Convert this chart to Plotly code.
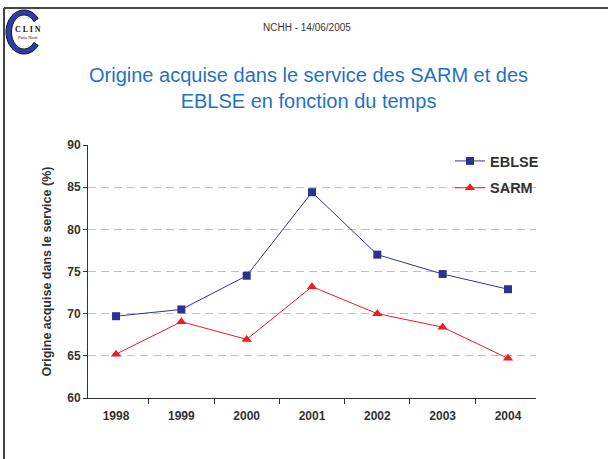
import numpy as np
import plotly.graph_objects as go

years = ["1998", "1999", "2000", "2001", "2002", "2003", "2004"]
eblse = [69.7, 70.5, 74.5, 84.4, 77.0, 74.7, 72.9]
sarm = [65.2, 69.05, 66.95, 73.2, 70.0, 68.4, 64.7]

W, H = 608, 459
L, R, T, B = 88, 72, 145, 61
pw, ph = W - L - R, H - T - B


def px(x):
    return (x - L) / pw


def py(y):
    return (H - B - y) / ph


fig = go.Figure()

fig.add_trace(go.Scatter(
    x=years, y=eblse, name="EBLSE", mode="lines+markers",
    legendgroup="a",
    line=dict(color="#333399", width=1),
    marker=dict(symbol="square", size=8, color="#2e3192"),
))
fig.add_trace(go.Scatter(
    x=years, y=sarm, name="SARM", mode="lines+markers",
    legendgroup="b",
    line=dict(color="#ee1c25", width=1),
    marker=dict(symbol="triangle-up", size=9, color="#ee1c25"),
))

tick_font = dict(family="Liberation Sans", size=12, color="#333", weight="bold")

fig.update_xaxes(
    type="category", tickson="boundaries", ticks="outside", ticklen=5,
    tickcolor="#333", showline=True, linecolor="#333", linewidth=1,
    showgrid=False, zeroline=False, ticklabelstandoff=7,
    tickfont=tick_font,
)
fig.update_yaxes(
    range=[60, 90], dtick=5, ticks="outside", ticklen=4, tickcolor="#333",
    showline=True, linecolor="#333", linewidth=1,
    showgrid=True, gridcolor="#c4c0c0", griddash="8px,5px", gridwidth=1,
    zeroline=False,
    tickfont=tick_font,
    title=dict(text="<b>Origine acquise dans le service (%)</b>",
               font=dict(family="Liberation Sans", size=12.5, color="#333"),
               standoff=12),
)

# slide frame
fig.add_shape(type="line", xref="paper", yref="paper",
              x0=px(4), x1=px(610), y0=py(8), y1=py(8),
              line=dict(color="#444", width=2))
fig.add_shape(type="line", xref="paper", yref="paper",
              x0=px(4), x1=px(4), y0=py(8), y1=py(470),
              line=dict(color="#444", width=2))

# CLIN logo: a thick "C"
cx, cy = 24, 32
t_out = np.radians(np.linspace(38, 322, 40))
t_in = t_out[::-1]
pts = [(cx + 18 * np.cos(t), cy - 22 * np.sin(t)) for t in t_out]
pts += [(cx + 12.5 * np.cos(t), cy - 17 * np.sin(t)) for t in t_in]
path = "M " + " L ".join(f"{px(a):.5f},{py(b):.5f}" for a, b in pts) + " Z"
fig.add_shape(type="path", xref="paper", yref="paper", path=path,
              fillcolor="#2a3cb0", line=dict(color="#111", width=1))

ann = [
    dict(x=px(307), y=py(27), text="NCHH - 14/06/2005",
         font=dict(family="Liberation Sans", size=10, color="#333")),
    dict(x=px(308), y=py(88), text="Origine acquise dans le service des SARM et des<br>EBLSE en fonction du temps",
         font=dict(family="Liberation Sans", size=20, color="#1f72c4")),
    dict(x=px(28), y=py(29), text="C L I N",
         font=dict(family="Liberation Serif", size=8, color="#111", weight="bold")),
    dict(x=px(28), y=py(37), text="Paris Nord",
         font=dict(family="Liberation Serif", size=4.5, color="#111")),
]
for a in ann:
    fig.add_annotation(xref="paper", yref="paper", showarrow=False,
                       xanchor="center", yanchor="middle", **a)

fig.update_layout(
    width=W, height=H,
    margin=dict(l=L, r=R, t=T, b=B),
    paper_bgcolor="white", plot_bgcolor="white",
    showlegend=True,
    legend=dict(x=px(450), y=py(145), xanchor="left", yanchor="top",
                bgcolor="rgba(0,0,0,0)",
                font=dict(family="Liberation Sans", size=14.5, color="#333",
                          weight="bold"),
                tracegroupgap=5, itemwidth=30),
    font=dict(family="Liberation Sans"),
)

fig.write_html("out.html", config={"displayModeBar": False},
               post_script="document.body.style.margin='0';")
